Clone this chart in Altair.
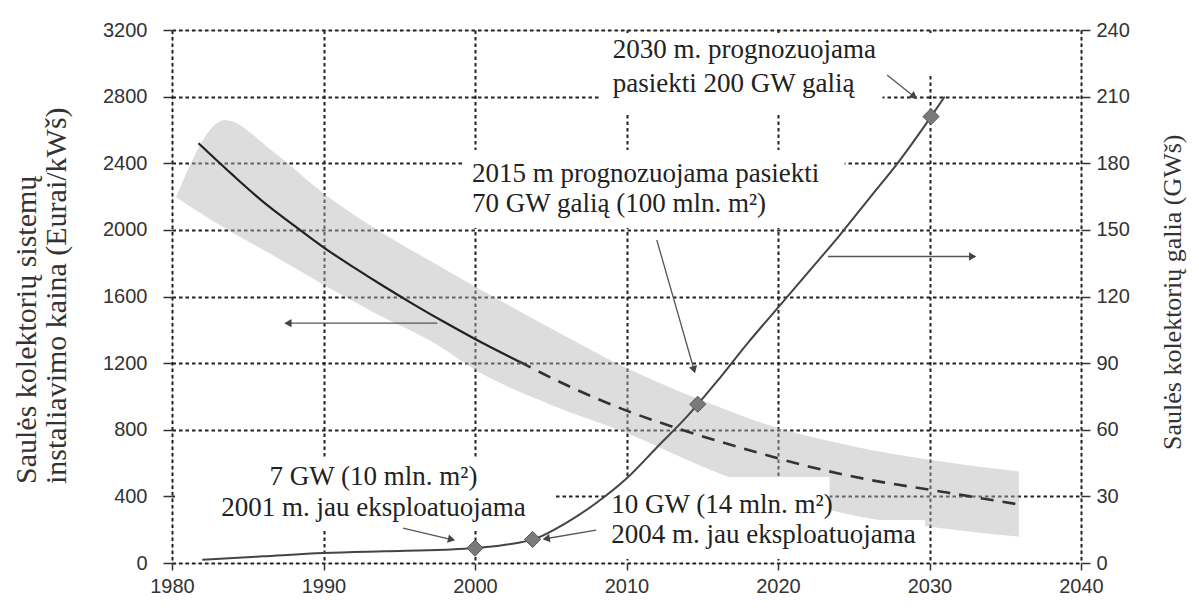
import math
import altair as alt
import pandas as pd

# ---------------- data ----------------
x_ticks = [1980, 1990, 2000, 2010, 2020, 2030, 2040]
price_ticks = [0, 400, 800, 1200, 1600, 2000, 2400, 2800, 3200]
cap_ticks = [0, 30, 60, 90, 120, 150, 180, 210, 240]

left_title = ["Saulės kolektorių sistemų", "instaliavimo kaina (Eurai/kWš)"]
right_title = ["Saulės kolektorių galia (GWš)"]

# installation cost (Eurai/kW), measured part
price_years = [1981.75, 1984, 1986, 1988, 1990, 1992, 1994, 1996, 1998, 2000, 2002.9]
price_vals = [2520, 2330, 2170, 2030, 1895, 1775, 1660, 1550, 1445, 1345, 1210]
# installation cost, forecast (dashed)
fc_years = [2002.9, 2006, 2010, 2014, 2018, 2022, 2026, 2030, 2033, 2036]
fc_vals = [1210, 1070, 915, 790, 680, 580, 500, 440, 395, 350]

# uncertainty band around the cost curve
band_years = [1980.3, 1983.5, 1986.6, 1990, 1993.2, 1997.5, 2000, 2005, 2010, 2015, 2020, 2025, 2030, 2035.9]
band_upper = [2205, 2660, 2475, 2220, 2020, 1790, 1660, 1410, 1170, 975, 810, 700, 620, 550]
band_lower = [2195, 2010, 1850, 1670, 1510, 1310, 1160, 950, 780, 580, 410, 285, 218, 158]

# installed capacity (GW)
cap_years = [1982, 1986, 1990, 1994, 1998, 2000, 2002, 2004, 2006, 2008, 2010, 2012, 2014,
             2016, 2018, 2020, 2022, 2024, 2026, 2028, 2030, 2031]
cap_vals = [1.5, 3, 4.5, 5.3, 6, 6.7, 8.2, 11, 18, 27, 38, 52, 66, 82, 99, 115, 131, 147,
            164, 181, 200, 210]

marker_years = [2000, 2003.8, 2014.7, 2030.1]
marker_vals = [6.7, 10.6, 71.5, 201]

# annotation texts (position in year / cost units)
ann_left_text = ["2030 m. prognozuojama", "pasiekti 200 GW galią",
                 "2015 m prognozuojama pasiekti", "70 GW galią (100 mln. m²)",
                 "10 GW (14 mln. m²)", "2004 m. jau eksploatuojama"]
ann_left_year = [2009.1, 2009.1, 1999.8, 1999.8, 2009.0, 2009.0]
ann_left_val = [3032, 2828, 2288, 2107, 300, 120]

ann_center_text = ["7 GW (10 mln. m²)", "2001 m. jau eksploatuojama"]
ann_center_year = [1993.3, 1993.3]
ann_center_val = [468, 282]

# white label boxes that interrupt the grid
box_x1 = [2008.25, 2026.9, 1999.3, 1980.2, 2008.6, 2023.4]
box_x2 = [2026.9, 2032.0, 2024.4, 2005.3, 2023.4, 2029.7]
box_y1 = [3182, 3182, 2480, 636, 516, 258]
box_y2 = [2708, 2942, 2011, 198, 24, 24]

# arrows (year, cost units)
arr_x1 = [1997.5, 2023.3, 2012.0, 2027.2, 1995.25, 2008.0]
arr_y1 = [1440, 1840, 1939, 2930, 210, 198]
arr_x2 = [1987.5, 2033.0, 2014.5, 2029.1, 1998.6, 2004.55]
arr_y2 = [1440, 1840, 1147, 2792, 138, 144]

# ---------------- layout ----------------
W, H = 909, 533
PX_X = W / (x_ticks[-1] - x_ticks[0])
PX_Y = H / price_ticks[-1]

xscale = alt.Scale(domain=[x_ticks[0], x_ticks[-1]], nice=False, zero=False)
yscale = alt.Scale(domain=[0, price_ticks[-1]], nice=False)
y2scale = alt.Scale(domain=[0, cap_ticks[-1]], nice=False)

SERIF = "Liberation Serif"
GRID = dict(grid=True, gridColor="#222", gridDash=[3.5, 3], gridWidth=2, gridOpacity=1)
LBL = dict(labelFont="Liberation Sans", labelFontSize=20, labelColor="#333")

xaxis = alt.Axis(values=x_ticks, format="d", domain=False, tickSize=7, tickColor="#333",
                 tickWidth=1.5, labelPadding=6, labelFlush=False, labelOverlap=False,
                 title=None, **GRID, **LBL)
yaxis = alt.Axis(values=price_ticks, format="d", domain=False, tickSize=9, tickColor="#333",
                 tickWidth=1.5, labelPadding=16, labelOverlap=False, title=None, **GRID, **LBL)
y2axis = alt.Axis(values=cap_ticks, format="d", orient="right", domain=False, grid=False,
                  tickSize=9, tickColor="#333", tickWidth=1.5, labelPadding=6, labelOverlap=False,
                  title=None, **LBL)


def X(f):
    return alt.X(f, type="quantitative", scale=xscale, axis=xaxis)


def YL(f, axis=True):
    return alt.Y(f, type="quantitative", scale=yscale, axis=yaxis if axis else None)


def YR(f):
    return alt.Y(f, type="quantitative", scale=y2scale, axis=y2axis)


band_df = pd.DataFrame({"year": band_years, "upper": band_upper, "lower": band_lower})
price_df = pd.DataFrame({"year": price_years, "v": price_vals})
fc_df = pd.DataFrame({"year": fc_years, "v": fc_vals})
cap_df = pd.DataFrame({"year": cap_years, "v": cap_vals})
mk_df = pd.DataFrame({"year": marker_years, "v": marker_vals})
box_df = pd.DataFrame({"x1": box_x1, "x2": box_x2, "y1": box_y1, "y2": box_y2})
arr_df = pd.DataFrame({"x1": arr_x1, "y1": arr_y1, "x2": arr_x2, "y2": arr_y2})

# arrow heads: direction from pixel deltas
heads = []
for a, b, c, d in zip(arr_x1, arr_y1, arr_x2, arr_y2):
    dxp = (c - a) * PX_X
    dyp = -(d - b) * PX_Y
    L = math.hypot(dxp, dyp)
    ang = math.degrees(math.atan2(dxp, -dyp)) % 360
    back = 3.5
    hx = c - (dxp / L) * back / PX_X
    hy = d + (dyp / L) * back / PX_Y
    heads.append({"x": hx, "y": hy, "ang": ang})
head_df = pd.DataFrame(heads)

ann_l_df = pd.DataFrame({"t": ann_left_text, "x": ann_left_year, "y": ann_left_val})
ann_c_df = pd.DataFrame({"t": ann_center_text, "x": ann_center_year, "y": ann_center_val})

band = alt.Chart(band_df).mark_area(color="#b4b4b4", opacity=0.45, interpolate="monotone").encode(
    x=X("year"), y=YL("upper"), y2="lower")
boxes = alt.Chart(box_df).mark_rect(color="white").encode(
    x=X("x1"), x2="x2", y=YL("y1"), y2="y2")
price = alt.Chart(price_df).mark_line(color="#222", strokeWidth=2.2, interpolate="monotone").encode(
    x=X("year"), y=YL("v"))
fc = alt.Chart(fc_df).mark_line(color="#333", strokeWidth=2.6, strokeDash=[13, 9],
                                interpolate="monotone").encode(x=X("year"), y=YL("v"))
left = alt.layer(band, boxes, price, fc)

cap = alt.Chart(cap_df).mark_line(color="#444", strokeWidth=2, interpolate="monotone").encode(
    x=X("year"), y=YR("v"))
mk = alt.Chart(mk_df).mark_point(shape="diamond", size=260, filled=True, fill="#7a7a7a",
                                 stroke="#555", strokeWidth=1, opacity=1).encode(
    x=X("year"), y=YR("v"))
right = alt.layer(cap, mk)

arrows = alt.Chart(arr_df).mark_rule(color="#555", strokeWidth=1.3).encode(
    x=X("x1"), x2="x2", y=YL("y1", False), y2="y2")
arrow_heads = alt.Chart(head_df).mark_point(shape="triangle", size=70, filled=True,
                                            color="#444", opacity=1).encode(
    x=X("x"), y=YL("y", False), angle=alt.Angle("ang:Q", scale=None))
txt_l = alt.Chart(ann_l_df).mark_text(align="left", baseline="alphabetic", font=SERIF,
                                      fontSize=27, color="#222").encode(
    x=X("x"), y=YL("y", False), text="t:N")
txt_c = alt.Chart(ann_c_df).mark_text(align="center", baseline="alphabetic", font=SERIF,
                                      fontSize=27, color="#222").encode(
    x=X("x"), y=YL("y", False), text="t:N")

# axis titles as serif text (pixel offsets relative to plot area)
TITLE = dict(align="left", baseline="alphabetic", font=SERIF, angle=270, color="#333")
lt1 = alt.Chart(pd.DataFrame({"t": [left_title[0]]})).mark_text(fontSize=30, **TITLE).encode(
    text="t:N", x=alt.value(-136), y=alt.value(454))
lt2 = alt.Chart(pd.DataFrame({"t": [left_title[1]]})).mark_text(fontSize=30, **TITLE).encode(
    text="t:N", x=alt.value(-106), y=alt.value(454))
rt = alt.Chart(pd.DataFrame({"t": right_title})).mark_text(fontSize=26, **TITLE).encode(
    text="t:N", x=alt.value(W + 100), y=alt.value(420))

top = alt.layer(arrows, arrow_heads, txt_l, txt_c, lt1, lt2, rt)

chart = alt.layer(left, right, top).resolve_scale(y="independent").properties(
    width=W, height=H,
    autosize=alt.AutoSizeParams(type="none"),
    padding={"left": 164, "top": 22, "right": 110, "bottom": 35},
).configure_view(stroke="#222", strokeWidth=3).configure(background="white")

chart.save("out.html", embed_options={"renderer": "svg", "actions": False})
